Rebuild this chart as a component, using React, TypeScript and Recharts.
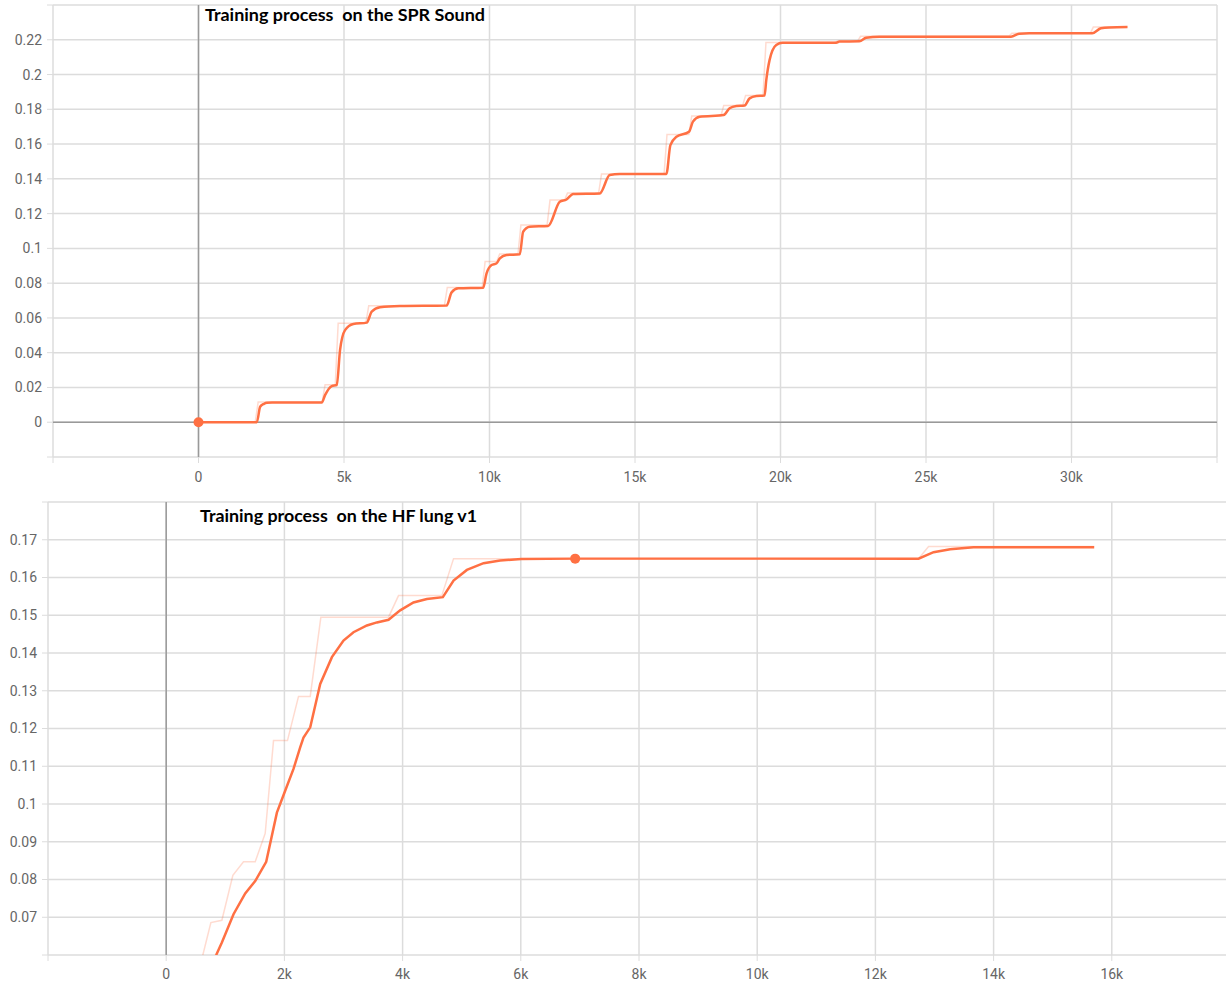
import React from 'react';
import { LineChart, Line, XAxis, YAxis, CartesianGrid, ReferenceLine, ReferenceDot } from 'recharts';

// ---------- Top chart: SPR Sound ----------
const sprTitle = 'Training process  on the SPR Sound';
const sprXTicks = [-5000, 0, 5000, 10000, 15000, 20000, 25000, 30000, 35000];
const sprYTicks = [-0.02, 0, 0.02, 0.04, 0.06, 0.08, 0.1, 0.12, 0.14, 0.16, 0.18, 0.2, 0.22, 0.24];
const sprSmoothX = [0, 2005, 2118, 2250, 2348, 2530, 4236, 4349, 4579, 4751, 4864, 5036, 5321, 5781, 5952, 6237, 6923, 8526, 8698, 8925, 9783, 9899, 10071, 10243, 10356, 10586, 11042, 11156, 11386, 12014, 12416, 12646, 12873, 13789, 14132, 14475, 16078, 16216, 16422, 16854, 16992, 17221, 18045, 18251, 18481, 18766, 18937, 19167, 19452, 19511, 19624, 19854, 20071, 21914, 22027, 22713, 22943, 23400, 27921, 28206, 28549, 30712, 31010, 31295, 31924];
const sprSmoothY = [0, 0, 0.0089, 0.0106, 0.0112, 0.0113, 0.0113, 0.0156, 0.0208, 0.0214, 0.0415, 0.053, 0.0565, 0.0573, 0.0636, 0.0661, 0.0668, 0.0671, 0.0747, 0.077, 0.0774, 0.0856, 0.0904, 0.0914, 0.0943, 0.0962, 0.0966, 0.1096, 0.1125, 0.1129, 0.1268, 0.1281, 0.1313, 0.1316, 0.1422, 0.1428, 0.1428, 0.1594, 0.1642, 0.1671, 0.1729, 0.1757, 0.1767, 0.1806, 0.1819, 0.1822, 0.1863, 0.1876, 0.1879, 0.1968, 0.2083, 0.217, 0.2183, 0.2183, 0.219, 0.2191, 0.2212, 0.2218, 0.2218, 0.2235, 0.2237, 0.2237, 0.2266, 0.2271, 0.2273];
const sprRawX = [0, 1950, 2050, 4250, 4350, 4700, 4800, 5750, 5850, 8450, 8550, 9750, 9850, 10250, 10350, 10980, 11080, 11980, 12080, 12580, 12680, 13750, 13850, 16000, 16100, 16850, 16950, 17950, 18050, 18700, 18800, 19400, 19500, 21850, 21950, 22650, 22750, 27850, 27950, 30650, 30750, 31924];
const sprRawY = [0, 0, 0.0116, 0.0116, 0.0215, 0.0215, 0.057, 0.057, 0.067, 0.067, 0.0775, 0.0775, 0.0925, 0.0925, 0.0968, 0.0968, 0.1135, 0.1135, 0.1278, 0.1278, 0.1318, 0.1318, 0.1428, 0.1428, 0.1655, 0.1655, 0.1762, 0.1762, 0.1822, 0.1822, 0.1879, 0.1879, 0.2185, 0.2185, 0.2192, 0.2192, 0.222, 0.222, 0.2238, 0.2238, 0.2273, 0.2273];

// ---------- Bottom chart: HF lung v1 ----------
const hfTitle = 'Training process  on the HF lung v1';
const hfXTicks = [-2000, 0, 2000, 4000, 6000, 8000, 10000, 12000, 14000, 16000, 18000];
const hfYTicks = [0.06, 0.07, 0.08, 0.09, 0.1, 0.11, 0.12, 0.13, 0.14, 0.15, 0.16, 0.17, 0.18];
const hfSmoothX = [700, 846, 942, 1139, 1337, 1506, 1692, 1873, 2013, 2154, 2267, 2323, 2437, 2606, 2804, 3000, 3169, 3396, 3565, 3762, 3959, 4184, 4411, 4681, 4862, 5088, 5370, 5651, 6007, 6920, 12730, 12984, 13266, 13660, 14112, 15702];
const hfSmoothY = [0.0555, 0.06, 0.0633, 0.0708, 0.0763, 0.0796, 0.0847, 0.0977, 0.1035, 0.1093, 0.115, 0.1176, 0.1203, 0.1318, 0.1389, 0.1433, 0.1455, 0.1473, 0.1481, 0.1488, 0.1513, 0.1534, 0.1543, 0.1548, 0.1592, 0.162, 0.1638, 0.1645, 0.1649, 0.165, 0.165, 0.1667, 0.1675, 0.168, 0.168, 0.168];
const hfRawX = [550, 620, 756, 942, 1128, 1308, 1506, 1675, 1816, 2052, 2239, 2437, 2617, 3762, 3931, 4664, 4862, 12730, 12900, 15702];
const hfRawY = [0.055, 0.06, 0.0686, 0.0692, 0.0811, 0.0847, 0.0847, 0.0922, 0.1168, 0.1168, 0.1285, 0.1285, 0.1495, 0.1495, 0.1552, 0.1552, 0.165, 0.165, 0.1682, 0.1682];
const hfMarker = { x: 6920, y: 0.165 };

const zip = (xs: number[], ys: number[]) => xs.map((x, i) => ({ x, y: ys[i] }));
const sprSmooth = zip(sprSmoothX, sprSmoothY);
const sprRaw = zip(sprRawX, sprRawY);
const hfSmooth = zip(hfSmoothX, hfSmoothY);
const hfRaw = zip(hfRawX, hfRawY);

const ORANGE = '#ff7043';
const GRID = '#dcdcdc';
const ZERO = '#999999';
const tickStyle = { fill: '#666666', fontSize: 14, fontFamily: 'Roboto' };

const kFmt = (lo: number, hi: number) => (v: number) => {
  if (v <= lo || v >= hi) return '';
  if (v === 0) return '0';
  return `${v / 1000}k`;
};
const yFmt = (lo: number, hi: number) => (v: number) => {
  if (v <= lo + 1e-9 || v >= hi - 1e-9) return '';
  return String(Number(v.toFixed(2)));
};

export default function App() {
  return (
    <div style={{ position: 'absolute', left: 0, top: 0, width: 1226, height: 983, overflow: 'hidden', background: '#fff' }}>
      <div style={{ position: 'absolute', left: 0, top: 0 }}>
        <LineChart width={1226} height={490} margin={{ top: 5, right: 9, left: 0, bottom: 0 }}>
          <CartesianGrid stroke={GRID} strokeWidth={1.5} />
          <XAxis
            dataKey="x"
            type="number"
            domain={[-5000, 35000]}
            ticks={sprXTicks}
            interval={0}
            allowDataOverflow
            tickFormatter={kFmt(-5000, 35000)}
            tick={tickStyle}
            tickLine={{ stroke: GRID }}
            tickSize={6}
            tickMargin={9}
            axisLine={false}
            height={33}
          />
          <YAxis
            dataKey="y"
            type="number"
            domain={[-0.02, 0.24]}
            ticks={sprYTicks}
            interval={0}
            allowDataOverflow
            tickFormatter={yFmt(-0.02, 0.24)}
            tick={tickStyle}
            tickLine={{ stroke: GRID }}
            tickSize={6}
            tickMargin={5}
            axisLine={false}
            width={53}
          />
          <ReferenceLine x={0} stroke={ZERO} strokeWidth={1.5} />
          <ReferenceLine y={0} stroke={ZERO} strokeWidth={1.5} />
          <Line data={sprRaw} dataKey="y" type="linear" stroke={ORANGE} strokeOpacity={0.25} strokeWidth={1.5} dot={false} isAnimationActive={false} />
          <Line data={sprSmooth} dataKey="y" type="monotone" stroke={ORANGE} strokeWidth={2.5} dot={false} isAnimationActive={false} />
          <ReferenceDot x={0} y={0} r={5} fill={ORANGE} stroke="none" />
        </LineChart>
      </div>
      <div style={{ position: 'absolute', left: 0, top: 490 }}>
        <LineChart width={1232} height={493} margin={{ top: 12, right: 2, left: 0, bottom: 0 }}>
          <CartesianGrid stroke={GRID} strokeWidth={1.5} />
          <XAxis
            dataKey="x"
            type="number"
            domain={[-2000, 18000]}
            ticks={hfXTicks}
            interval={0}
            allowDataOverflow
            tickFormatter={kFmt(-2000, 18000)}
            tick={tickStyle}
            tickLine={{ stroke: GRID }}
            tickSize={6}
            tickMargin={8}
            axisLine={false}
            height={28}
          />
          <YAxis
            dataKey="y"
            type="number"
            domain={[0.06, 0.18]}
            ticks={hfYTicks}
            interval={0}
            allowDataOverflow
            tickFormatter={yFmt(0.06, 0.18)}
            tick={tickStyle}
            tickLine={{ stroke: GRID }}
            tickSize={6}
            tickMargin={5}
            axisLine={false}
            width={48}
          />
          <ReferenceLine x={0} stroke={ZERO} strokeWidth={1.5} />
          <Line data={hfRaw} dataKey="y" type="linear" stroke={ORANGE} strokeOpacity={0.25} strokeWidth={1.5} dot={false} isAnimationActive={false} />
          <Line data={hfSmooth} dataKey="y" type="linear" stroke={ORANGE} strokeWidth={2.5} dot={false} isAnimationActive={false} />
          <ReferenceDot x={hfMarker.x} y={hfMarker.y} r={5} fill={ORANGE} stroke="none" />
        </LineChart>
      </div>
      <svg width={1226} height={983} style={{ position: 'absolute', left: 0, top: 0, pointerEvents: 'none' }}>
        <text x={205} y={21} fontFamily="Lato" fontWeight={700} fontSize={17} fill="#000" style={{ whiteSpace: 'pre' }} textLength={280} lengthAdjust="spacingAndGlyphs">{sprTitle}</text>
        <text x={200} y={522} fontFamily="Lato" fontWeight={700} fontSize={17} fill="#000" style={{ whiteSpace: 'pre' }} textLength={277} lengthAdjust="spacingAndGlyphs">{hfTitle}</text>
      </svg>
    </div>
  );
}
